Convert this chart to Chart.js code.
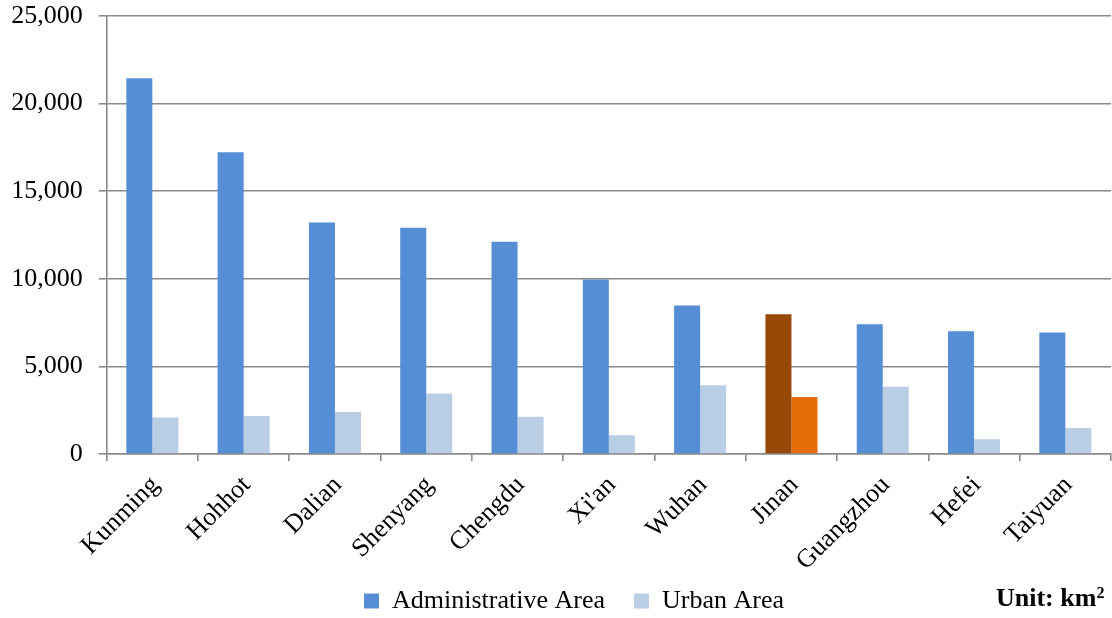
<!DOCTYPE html>
<html>
<head>
<meta charset="utf-8">
<script src="https://cdn.jsdelivr.net/npm/chart.js@4.4.1/dist/chart.umd.min.js"></script>
<style>
  html, body { margin: 0; padding: 0; background: #ffffff; }
  #wrap { position: relative; width: 1112px; height: 618px; }
  canvas { display: block; }
  #unit { position: absolute; left: 996px; top: 585px; line-height: 25px; font-family: "Liberation Serif", "Times New Roman", serif; font-weight: bold; font-size: 26px; color: #000; white-space: nowrap; }
  #unit sup { font-size: 16px; line-height: 0; vertical-align: 8px; }
</style>
</head>
<body>
<div id="wrap">
  <canvas id="c" width="1112" height="618"></canvas>
  <div id="unit">Unit: km<sup>2</sup></div>
</div>
<script>
const categories = ['Kunming', 'Hohhot', 'Dalian', 'Shenyang', 'Chengdu', "Xi'an", 'Wuhan', 'Jinan', 'Guangzhou', 'Hefei', 'Taiyuan'];
const administrativeArea = [21450, 17220, 13210, 12920, 12120, 9960, 8480, 7980, 7410, 7000, 6940];
const urbanArea = [2090, 2170, 2400, 3460, 2130, 1070, 3930, 3250, 3840, 840, 1480];
const seriesNames = ['Administrative Area', 'Urban Area'];
const highlightCity = 'Jinan';
const yMax = 25000;
const yStep = 5000;

const adminColor = '#558ED5';
const urbanColor = '#B9CDE5';
const adminHighlight = '#984807';
const urbanHighlight = '#E36C09';

const FONT = '"Liberation Serif", "Times New Roman", serif';
const gridColor = '#8A8A8A';
const gridWidth = 1.6;

const colorsFor = (base, hi) => categories.map(c => c === highlightCity ? hi : base);

// place the legend row where the original has it
const legendPlacement = {
  id: 'legendPlacement',
  afterLayout(chart) {
    const lg = chart.legend;
    if (lg) { lg.left = 37; lg.top = 559; }
  }
};

new Chart(document.getElementById('c'), {
  type: 'bar',
  data: {
    labels: categories,
    datasets: [
      { label: seriesNames[0], data: administrativeArea, backgroundColor: colorsFor(adminColor, adminHighlight), borderWidth: 0 },
      { label: seriesNames[1], data: urbanArea, backgroundColor: colorsFor(urbanColor, urbanHighlight), borderWidth: 0 }
    ]
  },
  plugins: [legendPlacement],
  options: {
    responsive: false,
    animation: false,
    devicePixelRatio: 1,
    layout: { padding: { left: 0, right: 1, top: 0, bottom: -31 } },
    datasets: { bar: { categoryPercentage: 0.57, barPercentage: 1.0 } },
    plugins: {
      tooltip: { enabled: false },
      legend: {
        position: 'bottom',
        labels: {
          font: { family: FONT, size: 26 },
          color: '#000',
          boxWidth: 15,
          boxHeight: 15,
          padding: 29,
          generateLabels: (chart) => chart.data.datasets.map((ds, i) => ({
            text: ds.label,
            fillStyle: i === 0 ? adminColor : urbanColor,
            strokeStyle: i === 0 ? adminColor : urbanColor,
            lineWidth: 0,
            hidden: false,
            datasetIndex: i
          }))
        }
      }
    },
    scales: {
      x: {
        afterFit: (s) => { s.height = 130; s.paddingLeft = 0; s.paddingRight = 0; },
        grid: { display: true, drawOnChartArea: false, drawTicks: true, tickLength: 7, color: gridColor, lineWidth: gridWidth, offset: true },
        border: { display: true, color: gridColor, width: gridWidth },
        ticks: { font: { family: FONT, size: 26 }, color: '#000', minRotation: 45, maxRotation: 45, padding: 9, labelOffset: 3, autoSkip: false }
      },
      y: {
        min: 0,
        max: yMax,
        afterFit: (s) => { s.width = 106.7; s.paddingTop = 16; s.paddingBottom = 0; },
        grid: { color: gridColor, lineWidth: gridWidth, drawTicks: true, tickLength: 8 },
        border: { display: true, color: gridColor, width: gridWidth },
        ticks: {
          stepSize: yStep,
          font: { family: FONT, size: 26 },
          color: '#000',
          padding: 16,
          callback: (v) => Number(v).toLocaleString('en-US')
        }
      }
    }
  }
});
</script>
</body>
</html>
